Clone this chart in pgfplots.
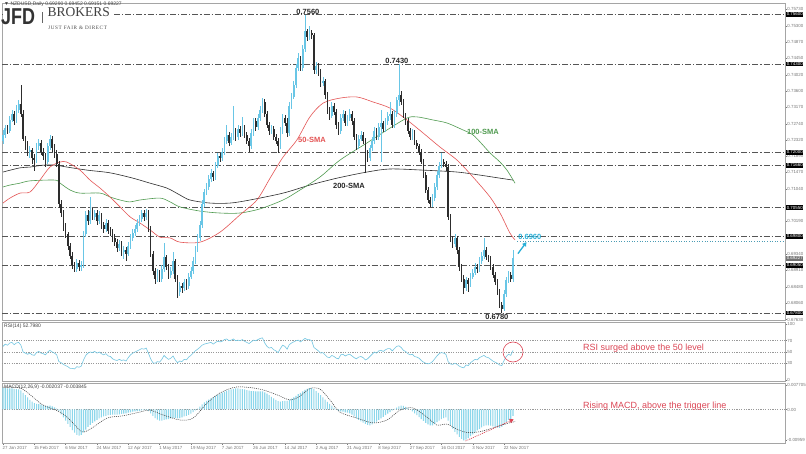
\documentclass[border=0pt]{standalone}
\usepackage{fontspec}
\setmainfont{Liberation Sans}
\newfontfamily\seriffont{Liberation Serif}
\newfontfamily\serifspaced[LetterSpace=12]{Liberation Serif}
\usepackage{pgfplots}
\usepackage{pgfplotstable}
\pgfplotsset{compat=1.18}
\usetikzlibrary{arrows.meta}
\definecolor{upc}{RGB}{105,198,230}
\definecolor{dnc}{RGB}{45,45,45}
\definecolor{sma50}{RGB}{228,85,85}
\definecolor{sma100}{RGB}{80,155,80}
\definecolor{sma200}{RGB}{45,45,45}
\definecolor{rsic}{RGB}{115,198,225}
\definecolor{macdc}{RGB}{140,215,235}
\definecolor{annred}{RGB}{220,70,85}
\definecolor{cyanl}{RGB}{40,175,215}
\definecolor{lvl}{RGB}{85,85,85}
\definecolor{tickc}{RGB}{120,120,120}
\definecolor{framec}{RGB}{165,165,165}

\pgfplotstableread{
i o h l c
0 0.7230 0.7258 0.7222 0.7245
1 0.7245 0.7270 0.7238 0.7262
2 0.7262 0.7270 0.7248 0.7255
3 0.7255 0.7295 0.7250 0.7285
4 0.7285 0.7310 0.7278 0.7300
5 0.7300 0.7308 0.7272 0.7280
6 0.7280 0.7322 0.7275 0.7310
7 0.7310 0.7335 0.7302 0.7325
8 0.7325 0.7375 0.7292 0.7300
9 0.7300 0.7310 0.7228 0.7235
10 0.7235 0.7242 0.7205 0.7215
11 0.7215 0.7228 0.7190 0.7200
12 0.7200 0.7215 0.7185 0.7205
13 0.7205 0.7212 0.7170 0.7185
14 0.7185 0.7195 0.7150 0.7180
15 0.7180 0.7225 0.7172 0.7215
16 0.7215 0.7235 0.7205 0.7225
17 0.7225 0.7232 0.7192 0.7200
18 0.7200 0.7210 0.7180 0.7190
19 0.7190 0.7198 0.7160 0.7175
20 0.7175 0.7225 0.7168 0.7215
21 0.7215 0.7245 0.7205 0.7235
22 0.7235 0.7242 0.7200 0.7210
23 0.7210 0.7220 0.7185 0.7195
24 0.7195 0.7205 0.7160 0.7170
25 0.7170 0.7178 0.7055 0.7065
26 0.7065 0.7075 0.7030 0.7040
27 0.7040 0.7048 0.6995 0.7005
28 0.7005 0.7015 0.6975 0.6985
29 0.6985 0.6992 0.6945 0.6955
30 0.6955 0.6962 0.6920 0.6930
31 0.6930 0.6938 0.6895 0.6905
32 0.6905 0.6912 0.6888 0.6895
33 0.6895 0.6920 0.6888 0.6910
34 0.6910 0.6918 0.6890 0.6900
35 0.6900 0.6915 0.6890 0.6905
36 0.6905 0.6995 0.6898 0.6985
37 0.6985 0.7045 0.6978 0.7035
38 0.7035 0.7048 0.7010 0.7020
39 0.7020 0.7083 0.7012 0.7045
40 0.7045 0.7055 0.7022 0.7030
41 0.7030 0.7050 0.7022 0.7040
42 0.7040 0.7048 0.7010 0.7020
43 0.7020 0.7045 0.7012 0.7035
44 0.7035 0.7042 0.7000 0.7010
45 0.7010 0.7018 0.6990 0.7000
46 0.7000 0.7025 0.6992 0.7015
47 0.7015 0.7022 0.6985 0.6995
48 0.6995 0.7005 0.6980 0.6990
49 0.6990 0.6998 0.6965 0.6975
50 0.6975 0.6985 0.6955 0.6965
51 0.6965 0.6972 0.6940 0.6950
52 0.6950 0.6970 0.6942 0.6960
53 0.6960 0.6968 0.6930 0.6940
54 0.6940 0.6955 0.6920 0.6945
55 0.6945 0.6952 0.6915 0.6935
56 0.6935 0.6965 0.6928 0.6955
57 0.6955 0.6985 0.6948 0.6975
58 0.6975 0.7000 0.6968 0.6990
59 0.6990 0.7010 0.6982 0.7000
60 0.7000 0.7025 0.6992 0.7015
61 0.7015 0.7035 0.7008 0.7025
62 0.7025 0.7048 0.7018 0.7040
63 0.7040 0.7050 0.7020 0.7030
64 0.7030 0.7052 0.7022 0.7040
65 0.7040 0.7048 0.6992 0.7000
66 0.7000 0.7008 0.6925 0.6935
67 0.6935 0.6942 0.6880 0.6890
68 0.6890 0.6898 0.6855 0.6870
69 0.6870 0.6895 0.6862 0.6885
70 0.6885 0.6892 0.6860 0.6870
71 0.6870 0.6905 0.6862 0.6895
72 0.6895 0.6963 0.6888 0.6925
73 0.6925 0.6932 0.6892 0.6900
74 0.6900 0.6908 0.6870 0.6880
75 0.6880 0.6900 0.6872 0.6890
76 0.6890 0.6940 0.6882 0.6915
77 0.6915 0.6922 0.6862 0.6870
78 0.6870 0.6878 0.6818 0.6835
79 0.6835 0.6860 0.6825 0.6850
80 0.6850 0.6858 0.6832 0.6845
81 0.6845 0.6870 0.6838 0.6860
82 0.6860 0.6868 0.6840 0.6850
83 0.6850 0.6885 0.6842 0.6875
84 0.6875 0.6900 0.6868 0.6890
85 0.6890 0.6925 0.6882 0.6915
86 0.6915 0.6955 0.6908 0.6945
87 0.6945 0.6985 0.6938 0.6975
88 0.6975 0.7020 0.6968 0.7010
89 0.7010 0.7075 0.7002 0.7065
90 0.7065 0.7105 0.7058 0.7095
91 0.7095 0.7120 0.7088 0.7110
92 0.7110 0.7140 0.7102 0.7130
93 0.7130 0.7155 0.7122 0.7145
94 0.7145 0.7152 0.7125 0.7135
95 0.7135 0.7175 0.7128 0.7165
96 0.7165 0.7198 0.7158 0.7190
97 0.7190 0.7198 0.7175 0.7185
98 0.7185 0.7210 0.7178 0.7200
99 0.7200 0.7240 0.7192 0.7230
100 0.7230 0.7270 0.7222 0.7245
101 0.7245 0.7252 0.7215 0.7225
102 0.7225 0.7250 0.7218 0.7240
103 0.7240 0.7320 0.7232 0.7255
104 0.7255 0.7262 0.7230 0.7240
105 0.7240 0.7270 0.7232 0.7260
106 0.7260 0.7268 0.7240 0.7250
107 0.7250 0.7292 0.7242 0.7265
108 0.7265 0.7272 0.7238 0.7245
109 0.7245 0.7252 0.7222 0.7230
110 0.7230 0.7238 0.7200 0.7215
111 0.7215 0.7260 0.7208 0.7250
112 0.7250 0.7290 0.7242 0.7280
113 0.7280 0.7288 0.7255 0.7265
114 0.7265 0.7300 0.7258 0.7290
115 0.7290 0.7320 0.7282 0.7310
116 0.7310 0.7341 0.7302 0.7330
117 0.7330 0.7338 0.7292 0.7300
118 0.7300 0.7308 0.7262 0.7270
119 0.7270 0.7278 0.7245 0.7255
120 0.7255 0.7270 0.7248 0.7260
121 0.7260 0.7268 0.7232 0.7240
122 0.7240 0.7248 0.7222 0.7230
123 0.7230 0.7238 0.7198 0.7215
124 0.7215 0.7265 0.7208 0.7255
125 0.7255 0.7300 0.7248 0.7290
126 0.7290 0.7298 0.7268 0.7275
127 0.7275 0.7290 0.7240 0.7250
128 0.7250 0.7330 0.7242 0.7320
129 0.7320 0.7355 0.7312 0.7345
130 0.7345 0.7385 0.7338 0.7375
131 0.7375 0.7430 0.7368 0.7420
132 0.7420 0.7460 0.7412 0.7445
133 0.7445 0.7452 0.7412 0.7420
134 0.7420 0.7480 0.7412 0.7470
135 0.7470 0.7558 0.7462 0.7515
136 0.7515 0.7522 0.7490 0.7500
137 0.7500 0.7530 0.7492 0.7510
138 0.7510 0.7520 0.7495 0.7505
139 0.7505 0.7512 0.7405 0.7415
140 0.7415 0.7435 0.7405 0.7425
141 0.7425 0.7432 0.7400 0.7410
142 0.7410 0.7418 0.7370 0.7380
143 0.7380 0.7395 0.7372 0.7385
144 0.7385 0.7392 0.7340 0.7350
145 0.7350 0.7358 0.7300 0.7310
146 0.7310 0.7318 0.7285 0.7295
147 0.7295 0.7330 0.7288 0.7320
148 0.7320 0.7328 0.7298 0.7305
149 0.7305 0.7312 0.7260 0.7270
150 0.7270 0.7278 0.7245 0.7255
151 0.7255 0.7300 0.7248 0.7290
152 0.7290 0.7310 0.7282 0.7300
153 0.7300 0.7308 0.7268 0.7275
154 0.7275 0.7298 0.7268 0.7290
155 0.7290 0.7312 0.7282 0.7300
156 0.7300 0.7308 0.7272 0.7280
157 0.7280 0.7288 0.7232 0.7240
158 0.7240 0.7248 0.7205 0.7215
159 0.7215 0.7245 0.7208 0.7235
160 0.7235 0.7255 0.7228 0.7245
161 0.7245 0.7252 0.7222 0.7230
162 0.7230 0.7238 0.7145 0.7195
163 0.7195 0.7205 0.7175 0.7185
164 0.7185 0.7218 0.7178 0.7210
165 0.7210 0.7240 0.7202 0.7230
166 0.7230 0.7265 0.7222 0.7255
167 0.7255 0.7262 0.7232 0.7240
168 0.7240 0.7275 0.7232 0.7265
169 0.7265 0.7310 0.7175 0.7275
170 0.7275 0.7282 0.7252 0.7260
171 0.7260 0.7290 0.7252 0.7280
172 0.7280 0.7305 0.7272 0.7295
173 0.7295 0.7330 0.7285 0.7300
174 0.7300 0.7308 0.7262 0.7270
175 0.7270 0.7310 0.7262 0.7300
176 0.7300 0.7345 0.7292 0.7335
177 0.7335 0.7430 0.7320 0.7350
178 0.7350 0.7360 0.7322 0.7330
179 0.7330 0.7338 0.7288 0.7295
180 0.7295 0.7302 0.7272 0.7280
181 0.7280 0.7288 0.7248 0.7255
182 0.7255 0.7262 0.7232 0.7240
183 0.7240 0.7260 0.7232 0.7250
184 0.7250 0.7258 0.7218 0.7225
185 0.7225 0.7232 0.7208 0.7215
186 0.7215 0.7222 0.7192 0.7200
187 0.7200 0.7208 0.7168 0.7175
188 0.7175 0.7182 0.7132 0.7140
189 0.7140 0.7148 0.7092 0.7100
190 0.7100 0.7108 0.7068 0.7075
191 0.7075 0.7082 0.7057 0.7065
192 0.7065 0.7090 0.7058 0.7080
193 0.7080 0.7120 0.7072 0.7110
194 0.7110 0.7150 0.7102 0.7140
195 0.7140 0.7175 0.7132 0.7165
196 0.7165 0.7198 0.7158 0.7175
197 0.7175 0.7182 0.7160 0.7170
198 0.7170 0.7178 0.7150 0.7160
199 0.7160 0.7168 0.7022 0.7030
200 0.7030 0.7038 0.6965 0.6975
201 0.6975 0.6982 0.6950 0.6960
202 0.6960 0.6985 0.6952 0.6975
203 0.6975 0.6982 0.6935 0.6945
204 0.6945 0.6952 0.6890 0.6900
205 0.6900 0.6908 0.6860 0.6870
206 0.6870 0.6878 0.6830 0.6845
207 0.6845 0.6875 0.6838 0.6865
208 0.6865 0.6872 0.6835 0.6855
209 0.6855 0.6885 0.6848 0.6875
210 0.6875 0.6895 0.6868 0.6885
211 0.6885 0.6910 0.6878 0.6900
212 0.6900 0.6908 0.6885 0.6895
213 0.6895 0.6925 0.6888 0.6915
214 0.6915 0.6940 0.6908 0.6930
215 0.6930 0.6975 0.6922 0.6945
216 0.6945 0.6952 0.6918 0.6925
217 0.6925 0.6932 0.6912 0.6920
218 0.6920 0.6928 0.6892 0.6900
219 0.6900 0.6908 0.6872 0.6880
220 0.6880 0.6888 0.6852 0.6860
221 0.6860 0.6868 0.6828 0.6835
222 0.6835 0.6842 0.6792 0.6800
223 0.6800 0.6808 0.6780 0.6790
224 0.6790 0.6840 0.6785 0.6830
225 0.6830 0.6875 0.6822 0.6865
226 0.6865 0.6890 0.6858 0.6880
227 0.6880 0.6888 0.6862 0.6870
228 0.6870 0.6945 0.6862 0.6923
}\ohlc

\pgfplotstableread{
i r m
0 60 0.0068
1 64 0.0067
2 62 0.0066
3 66 0.0066
4 67 0.0066
5 63 0.0065
6 66 0.0064
7 67 0.0063
8 62 0.0060
9 50 0.0052
10 48 0.0045
11 46 0.0038
12 48 0.0030
13 45 0.0025
14 44 0.0020
15 49 0.0018
16 51 0.0017
17 48 0.0015
18 47 0.0013
19 45 0.0011
20 50 0.0011
21 53 0.0012
22 50 0.0010
23 48 0.0007
24 45 0.0003
25 33 -0.0005
26 31 -0.0015
27 28 -0.0025
28 26 -0.0035
29 24 -0.0045
30 21 -0.0055
31 21 -0.0065
32 20 -0.0073
33 24 -0.0080
34 23 -0.0082
35 25 -0.0080
36 36 -0.0072
37 44 -0.0063
38 48 -0.0055
39 50 -0.0048
40 49 -0.0042
41 51 -0.0037
42 48 -0.0033
43 50 -0.0028
44 47 -0.0025
45 45 -0.0022
46 47 -0.0020
47 43 -0.0018
48 42 -0.0017
49 38 -0.0016
50 36 -0.0016
51 35 -0.0016
52 37 -0.0015
53 35 -0.0014
54 36 -0.0013
55 34 -0.0012
56 40 -0.0010
57 45 -0.0009
58 48 -0.0007
59 50 -0.0006
60 52 -0.0005
61 54 -0.0004
62 56 -0.0003
63 55 -0.0002
64 57 -0.0002
65 48 -0.0005
66 38 -0.0012
67 31 -0.0020
68 30 -0.0027
69 33 -0.0032
70 32 -0.0035
71 37 -0.0035
72 44 -0.0033
73 40 -0.0031
74 37 -0.0030
75 39 -0.0028
76 43 -0.0026
77 36 -0.0026
78 31 -0.0028
79 34 -0.0027
80 33 -0.0025
81 37 -0.0022
82 36 -0.0020
83 41 -0.0017
84 44 -0.0013
85 48 -0.0008
86 52 -0.0003
87 55 0.0003
88 58 0.0009
89 62 0.0016
90 64 0.0022
91 65 0.0027
92 66 0.0031
93 67 0.0035
94 64 0.0038
95 67 0.0042
96 69 0.0046
97 68 0.0050
98 69 0.0053
99 72 0.0056
100 73 0.0059
101 70 0.0061
102 71 0.0063
103 73 0.0065
104 70 0.0066
105 71 0.0066
106 70 0.0065
107 72 0.0064
108 69 0.0063
109 67 0.0061
110 65 0.0059
111 68 0.0058
112 71 0.0058
113 70 0.0057
114 72 0.0057
115 74 0.0057
116 75 0.0057
117 66 0.0054
118 60 0.0050
119 57 0.0045
120 58 0.0040
121 54 0.0035
122 52 0.0030
123 49 0.0026
124 56 0.0025
125 62 0.0026
126 60 0.0027
127 55 0.0027
128 63 0.0030
129 66 0.0034
130 68 0.0038
131 70 0.0043
132 71 0.0048
133 68 0.0052
134 71 0.0057
135 74 0.0062
136 72 0.0065
137 72 0.0067
138 70 0.0068
139 58 0.0064
140 55 0.0058
141 52 0.0052
142 48 0.0045
143 49 0.0038
144 45 0.0031
145 41 0.0024
146 40 0.0018
147 44 0.0012
148 42 0.0006
149 39 0.0001
150 38 -0.0004
151 45 -0.0006
152 46 -0.0007
153 43 -0.0009
154 45 -0.0010
155 46 -0.0012
156 43 -0.0016
157 40 -0.0022
158 38 -0.0028
159 41 -0.0033
160 42 -0.0037
161 40 -0.0041
162 36 -0.0045
163 38 -0.0048
164 42 -0.0050
165 46 -0.0047
166 50 -0.0042
167 48 -0.0038
168 52 -0.0033
169 53 -0.0028
170 51 -0.0023
171 54 -0.0018
172 56 -0.0013
173 56 -0.0008
174 52 -0.0003
175 56 0.0002
176 60 0.0006
177 61 0.0010
178 58 0.0012
179 53 0.0011
180 51 0.0008
181 47 0.0004
182 45 0.0000
183 46 -0.0006
184 42 -0.0012
185 41 -0.0018
186 39 -0.0024
187 35 -0.0030
188 32 -0.0036
189 30 -0.0042
190 29 -0.0047
191 30 -0.0050
192 33 -0.0050
193 38 -0.0045
194 43 -0.0040
195 47 -0.0035
196 49 -0.0030
197 48 -0.0027
198 46 -0.0025
199 33 -0.0035
200 29 -0.0048
201 28 -0.0060
202 30 -0.0070
203 28 -0.0078
204 25 -0.0086
205 23 -0.0092
206 22 -0.0097
207 27 -0.0095
208 26 -0.0090
209 31 -0.0084
210 34 -0.0078
211 37 -0.0072
212 36 -0.0066
213 40 -0.0061
214 42 -0.0056
215 44 -0.0052
216 41 -0.0050
217 40 -0.0050
218 37 -0.0051
219 34 -0.0053
220 32 -0.0055
221 30 -0.0057
222 27 -0.0058
223 26 -0.0055
224 35 -0.0048
225 42 -0.0040
226 46 -0.0033
227 44 -0.0030
228 52.8 -0.0020
}\ind

\begin{document}
\begin{tikzpicture}[x=1pt,y=1pt]
\useasboundingbox (0,0) rectangle (806,454);
\fill[white] (0,0) rectangle (806,454);
\pgfplotsset{
  chartbase/.style={scale only axis, width=783pt, xmin=-0.45, xmax=349.6,
    axis line style={draw=framec, line width=0.9pt},
    tick style={draw=tickc, line width=0.4pt},
    tick align=outside, major tick length=1.6pt,
    ticklabel style={font=\fontsize{4.4}{4.4}\selectfont, text=tickc},
    yticklabel style={inner xsep=0.6pt},
    /pgf/number format/assume math mode=true,
    scaled y ticks=false,
    clip=false, anchor=south west,
  }
}
% ---------------- main price panel ----------------
\begin{axis}[chartbase, at={(2pt,134pt)}, height=317pt,
   ymin=0.67617, ymax=0.75894, xtick=\empty,
   ytick={0.75730,0.75300,0.74870,0.74450,0.74020,0.73600,0.73170,0.72740,0.72320,0.71890,0.71470,0.71040,0.70190,0.69340,0.68910,0.68480,0.68060,0.67630},
   ytick pos=right, yticklabel pos=right,
   yticklabel style={/pgf/number format/.cd, fixed, fixed zerofill, precision=5},
]
\pgfplotsinvokeforeach{0.7560,0.7430,0.7200,0.7166,0.7055,0.6979,0.6904,0.6780}{
  \draw[lvl, line width=0.6pt, dash pattern=on 6pt off 2pt on 1.2pt off 2pt] (axis cs:-0.45,#1) -- (axis cs:349.6,#1);
}
\draw[cyanl!60!gray, line width=0.6pt, dotted] (axis cs:230,0.6967) -- (axis cs:349.6,0.6967);
% moving averages
\addplot[sma200, line width=0.6pt, smooth] coordinates {
(0,0.7148) (7.6,0.7159) (12.1,0.7161) (17.9,0.7166) (23.2,0.7166) (28.6,0.7161) (37.6,0.7153) (47.8,0.7146) (58.1,0.7132) (65.7,0.7119) (73.3,0.7106) (79.1,0.7088) (83.6,0.7075) (92.5,0.7067) (101.5,0.7067) (110.4,0.7075) (125.2,0.7093) (137.2,0.7114) (149.3,0.7132) (162.7,0.7148) (173,0.7156) (187.8,0.7153) (203,0.7148) (213.2,0.7140) (222.2,0.7132) (228,0.7127)};
\addplot[sma100, line width=0.6pt, smooth] coordinates {
(0,0.7109) (3.1,0.7114) (7.6,0.7119) (12.1,0.7125) (23.2,0.7127) (25.5,0.7119) (30,0.7101) (34.4,0.7093) (43.4,0.7093) (47.8,0.7083) (52.3,0.7075) (56.8,0.7070) (61.2,0.7075) (70.2,0.7080) (74.7,0.7070) (79.1,0.7057) (88.1,0.7046) (97,0.7041) (105.9,0.7041) (115,0.7052) (125.2,0.7075) (131.4,0.7096) (141.7,0.7135) (150.6,0.7179) (162.7,0.7224) (171.7,0.7258) (180.6,0.7289) (185.1,0.7292) (192.2,0.7284) (198.5,0.7276) (205.6,0.7258) (210.1,0.7245) (214.6,0.7218) (217.7,0.7198) (222.2,0.7174) (225.3,0.7153) (228.9,0.7119)};
\addplot[sma50, line width=0.6pt, smooth] coordinates {
(0,0.7067) (3.1,0.7080) (7.6,0.7093) (12.1,0.7096) (16.5,0.7127) (21,0.7161) (25.5,0.7174) (28.6,0.7174) (34.4,0.7153) (38.9,0.7127) (43.4,0.7106) (47.8,0.7083) (52.3,0.7057) (56.8,0.7031) (61.2,0.7015) (65.7,0.6997) (70.2,0.6978) (74.7,0.6976) (79.1,0.6965) (88.1,0.6965) (97,0.6991) (105.9,0.7036) (113.5,0.7075) (119.4,0.7132) (125.2,0.7187) (131.4,0.7232) (137.2,0.7292) (143.1,0.7328) (150.6,0.7341) (158.2,0.7344) (165.4,0.7331) (173,0.7315) (180.6,0.7284) (187.8,0.7250) (195.4,0.7213) (203,0.7179) (210.1,0.7135) (217.7,0.7083) (222.2,0.7041) (226.6,0.6989) (228.9,0.6971)};
% candles: wicks
\addplot[draw=none, mark=none, restrict expr to domain={\thisrow{c}-\thisrow{o}}{0:1},
  error bars/.cd, y dir=both, y explicit, error mark=none,
  error bar style={draw=upc, line width=0.7pt}]
  table[x=i, y expr={0.5*(\thisrow{h}+\thisrow{l})}, y error expr={0.5*(\thisrow{h}-\thisrow{l})}] {\ohlc};
\addplot[draw=none, mark=none, restrict expr to domain={\thisrow{c}-\thisrow{o}}{-1:-0.00001},
  error bars/.cd, y dir=both, y explicit, error mark=none,
  error bar style={draw=dnc, line width=0.7pt}]
  table[x=i, y expr={0.5*(\thisrow{h}+\thisrow{l})}, y error expr={0.5*(\thisrow{h}-\thisrow{l})}] {\ohlc};
% candles: bodies
\addplot[draw=none, mark=none, restrict expr to domain={\thisrow{c}-\thisrow{o}}{0:1},
  error bars/.cd, y dir=both, y explicit, error mark=none,
  error bar style={draw=upc, line width=1.7pt}]
  table[x=i, y expr={0.5*(\thisrow{o}+\thisrow{c})}, y error expr={0.5*abs(\thisrow{c}-\thisrow{o})}] {\ohlc};
\addplot[draw=none, mark=none, restrict expr to domain={\thisrow{c}-\thisrow{o}}{-1:-0.00001},
  error bars/.cd, y dir=both, y explicit, error mark=none,
  error bar style={draw=dnc, line width=1.7pt}]
  table[x=i, y expr={0.5*(\thisrow{o}+\thisrow{c})}, y error expr={0.5*abs(\thisrow{c}-\thisrow{o})}] {\ohlc};
% annotations
\node[font=\fontsize{7.5}{8}\selectfont\bfseries, text=black!85] at (axis cs:136.3,0.7565) {0.7560};
\node[font=\fontsize{7.5}{8}\selectfont\bfseries, text=black!85] at (axis cs:176.1,0.7437) {0.7430};
\node[font=\fontsize{7.5}{8}\selectfont\bfseries, text=black!85] at (axis cs:220.8,0.6769) {0.6780};
\node[font=\fontsize{7.5}{8}\selectfont\bfseries, text=cyanl, anchor=west, inner sep=0pt] at (axis cs:230.3,0.6978) {0.6960};
\node[font=\fontsize{7.5}{8}\selectfont\bfseries, text=sma50, anchor=west, inner sep=0pt] at (axis cs:131.9,0.7232) {50-SMA};
\node[font=\fontsize{7.5}{8}\selectfont\bfseries, text=sma100, anchor=west, inner sep=0pt] at (axis cs:207.4,0.7253) {100-SMA};
\node[font=\fontsize{7.5}{8}\selectfont\bfseries, text=black!85, anchor=west, inner sep=0pt] at (axis cs:147.5,0.7112) {200-SMA};
\draw[cyanl, line width=1.3pt, -{Triangle[width=4.5pt,length=4pt]}] (axis cs:230.2,0.6935) -- (axis cs:234.0,0.6965);
% right price boxes
\pgfplotsinvokeforeach{0.75600,0.74300,0.72000,0.71660,0.70550,0.69800,0.69050,0.67800}{
  \node[fill=black, text=white, font=\fontsize{4.4}{4.4}\selectfont, anchor=west, inner xsep=0.7pt, inner ysep=0.9pt] at (axis cs:350.0,#1) {#1};
}
\node[fill=black!55, text=white, font=\fontsize{4.4}{4.4}\selectfont, anchor=west, inner xsep=0.7pt, inner ysep=0.9pt] at (axis cs:350.0,0.69227) {0.69227};
\end{axis}

% ---------------- RSI panel ----------------
\begin{axis}[chartbase, at={(2pt,72.5pt)}, height=59.5pt,
   ymin=-2.2, ymax=103.1, xtick=\empty,
   ytick={0,30,50,70,100}, ytick pos=right, yticklabel pos=right,
]
\pgfplotsinvokeforeach{30,50,70}{
  \draw[gray!80, line width=0.4pt, dash pattern=on 1.2pt off 1.2pt] (axis cs:-0.45,#1) -- (axis cs:349.6,#1);
}
\addplot[rsic, line width=0.6pt] table[x=i, y=r] {\ind};
\draw[annred, line width=0.6pt] (axis cs:228,50) circle[radius=10pt];
\node[font=\fontsize{9}{10}\selectfont, text=annred, anchor=west, inner sep=0pt] at (axis cs:259.3,57) {RSI surged above the 50 level};
\end{axis}

% ---------------- MACD panel ----------------
\begin{axis}[chartbase, at={(2pt,11pt)}, height=60pt,
   ymin=-0.01053, ymax=0.00833,
   xtick={0,14,...,224},
   xticklabels={27 Jan 2017,15 Feb 2017,6 Mar 2017,24 Mar 2017,12 Apr 2017,1 May 2017,19 May 2017,7 Jun 2017,26 Jun 2017,14 Jul 2017,2 Aug 2017,21 Aug 2017,8 Sep 2017,27 Sep 2017,16 Oct 2017,3 Nov 2017,22 Nov 2017},
   xtick pos=bottom,
   xticklabel style={anchor=north west, inner sep=0pt, xshift=-0.5pt, yshift=-1.8pt},
   ytick={-0.00959,0,0.007705}, yticklabels={-0.00959,0.00,0.007705},
   ytick pos=right, yticklabel pos=right,
]
\draw[gray!80, line width=0.4pt, dash pattern=on 1.2pt off 1.2pt] (axis cs:-0.45,0) -- (axis cs:349.6,0);
\addplot[ybar, bar width=1.1pt, fill=macdc, draw=none] table[x=i, y=m] {\ind};
\addplot[black!80, line width=0.5pt, dash pattern=on 1pt off 1pt, smooth] coordinates {
(0,0.0070) (7.6,0.0068) (13.4,0.0039) (17.9,0.0014) (25.5,-0.0008) (30,-0.0033) (35.3,-0.0070) (39.8,-0.0058) (46.5,-0.0027) (53.6,-0.0020) (61.2,-0.0008) (65.7,-0.0002) (71.5,-0.0017) (79.1,-0.0033) (85,-0.0027) (91.2,0.0020) (97,0.0052) (104.6,0.0071) (114.9,0.0064) (122.5,0.0046) (128.3,0.0030) (132.8,0.0042) (137.2,0.0066) (141.7,0.0064) (146.2,0.0030) (150.6,-0.0008) (158.2,-0.0027) (165.4,-0.0042) (171.7,-0.0033) (177.5,-0.0002) (183.3,0.0005) (189.5,-0.0024) (194,-0.0049) (198.5,-0.0046) (203,-0.0062) (207.4,-0.0072) (213,-0.0070) (219,-0.0058) (225.3,-0.0044) (228.9,-0.0038)};
\draw[annred, line width=0.7pt, dash pattern=on 1pt off 1pt, -{Triangle[width=4.5pt,length=4pt]}] (axis cs:206.8,-0.0099) -- (axis cs:228.3,-0.0031);
\node[font=\fontsize{9}{10}\selectfont, text=annred, anchor=west, inner sep=0pt] at (axis cs:259.3,0.0012) {Rising MACD, above the trigger line};
\end{axis}

% ---------------- headers & logo ----------------
\node[anchor=west, inner sep=0pt, font=\fontsize{5}{5}\selectfont, text=black!75] at (4,128) {RSI(14) 52.7980};
\node[anchor=west, inner sep=0pt, font=\fontsize{5}{5}\selectfont, text=black!75] at (4,67) {MACD(12,26,9) -0.002037 -0.003845};
\fill[white] (3,421) rectangle (113,446);
\node[anchor=west, inner sep=0pt, font=\fontsize{5}{5}\selectfont, text=black!75] at (4,449.5) {▼ NZDUSD,Daily  0.69290 0.69452 0.69151 0.69227};
\node[anchor=west, inner sep=0pt, text=black!80] at (1,437) {\scalebox{0.78}[1]{\fontsize{23}{23}\selectfont\bfseries JFD}};
\draw[black!60, line width=0.8pt] (42,431) -- (42,442);
\node[anchor=base west, inner sep=0pt, text=black!75] at (47.5,437.5) {\seriffont\fontsize{13.5}{13.5}\selectfont BROKERS};
\node[anchor=base west, inner sep=0pt, text=black!70] at (48,424.5) {\serifspaced\fontsize{5.2}{5.2}\selectfont JUST FAIR \& DIRECT};
\end{tikzpicture}
\end{document}
